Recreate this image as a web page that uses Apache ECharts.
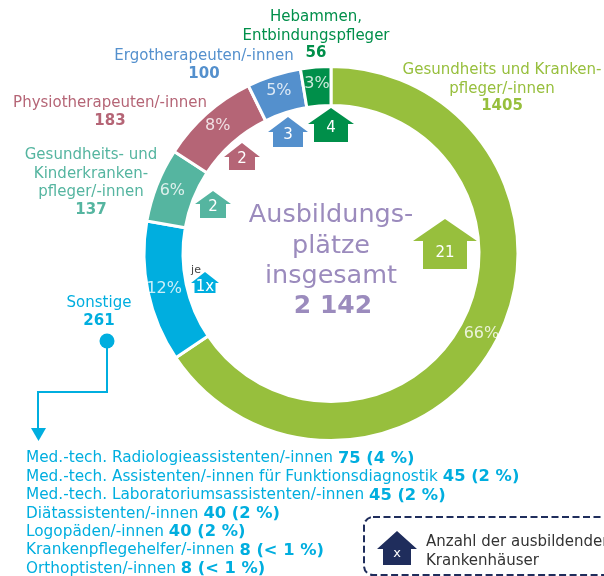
<!DOCTYPE html>
<html>
<head>
<meta charset="utf-8">
<script src="https://cdn.jsdelivr.net/npm/echarts@6/dist/echarts.min.js"></script>
<style>
html,body{margin:0;padding:0;background:#fff;}
#grafica{width:604px;height:576px;}
</style>
</head>
<body>
<div id="grafica"></div>
<script>
// datos
var berufe = ['Gesundheits und Kranken-\npfleger/-innen', 'Sonstige', 'Gesundheits- und\nKinderkranken-\npfleger/-innen', 'Physiotherapeuten/-innen', 'Ergotherapeuten/-innen', 'Hebammen,\nEntbindungspfleger'];
var plaetze = [1405, 261, 137, 183, 100, 56];
var prozent = ['66%', '12%', '6%', '8%', '5%', '3%'];
var haeuser = ['21', '1x', '2', '2', '3', '4'];
var farben = ['#97BF3D', '#00AEDF', '#55B5A0', '#B56576', '#5490CD', '#008F4A'];

var sonstigeNamen = ['Med.-tech. Radiologieassistenten/-innen', 'Med.-tech. Assistenten/-innen für Funktionsdiagnostik', 'Med.-tech. Laboratoriumsassistenten/-innen', 'Diätassistenten/-innen', 'Logopäden/-innen', 'Krankenpflegehelfer/-innen', 'Orthoptisten/-innen'];
var sonstigeWerte = ['75 (4 %)', '45 (2 %)', '45 (2 %)', '40 (2 %)', '40 (2 %)', '8 (< 1 %)', '8 (< 1 %)'];

var mitteZeilen = ['Ausbildungs-', 'plätze', 'insgesamt'];
var mitteSumme = '2 142';
var legendeText = 'Anzahl der ausbildenden\nKrankenhäuser';

var schrift = '"DejaVu Sans", sans-serif';
var elemente = [];

function texto(x, y, t, size, color, weight, align) {
    elemente.push({
        type: 'text', x: x, y: y + 1.5, silent: true,
        style: {
            text: t, fill: color, font: (weight || 'normal') + ' ' + size + 'px ' + schrift,
            align: align || 'center', verticalAlign: 'middle'
        }
    });
}

// casita con numero
function casa(cx, arriba, alero, abajo, mitad, cuerpo, color, t, size, yTexto) {
    elemente.push({
        type: 'polygon', silent: true,
        shape: { points: [[cx, arriba], [cx + mitad, alero], [cx + cuerpo, alero], [cx + cuerpo, abajo], [cx - cuerpo, abajo], [cx - cuerpo, alero], [cx - mitad, alero]] },
        style: { fill: color }
    });
    texto(cx, yTexto, t, size, '#fff');
}

// etiquetas de fuera: nombre en varias lineas y el valor en negrita
function etiqueta(i, x, y, alto) {
    var lineas = berufe[i].split('\n');
    lineas.forEach(function (l, n) {
        texto(x, y + n * alto, l, 15, farben[i]);
    });
    texto(x, y + lineas.length * alto - 1, String(plaetze[i]), 15, farben[i], 'bold');
}

etiqueta(0, 502, 69, 18.5);
etiqueta(1, 99, 302, 18.5);
etiqueta(2, 91, 154, 18.5);
etiqueta(3, 110, 102, 18.5);
etiqueta(4, 204, 55, 18.5);
etiqueta(5, 316, 16, 18.5);

casa(445, 219, 241, 269, 32, 22, farben[0], haeuser[0], 15, 252);
casa(205, 272, 283, 293, 14, 10.5, farben[1], haeuser[1], 15, 285.5);
casa(213, 191, 204, 218, 18, 13, farben[2], haeuser[2], 15, 206);
casa(242, 143, 157, 170, 18, 13, farben[3], haeuser[3], 15, 158);
casa(288, 117, 132, 147, 20, 15, farben[4], haeuser[4], 15, 134);
casa(331, 108, 124, 142, 23, 17, farben[5], haeuser[5], 15, 127);
texto(196, 269, 'je', 11, '#444');

// centro
mitteZeilen.forEach(function (l, n) {
    texto(331, 214 + n * 30.5, l, 25.5, '#9B8BBD');
});
texto(333, 305, mitteSumme, 25, '#9B8BBD', 'bold');

// flecha de Sonstige
elemente.push({ type: 'circle', silent: true, shape: { cx: 107, cy: 341, r: 7.5 }, style: { fill: farben[1] } });
elemente.push({ type: 'polyline', silent: true, shape: { points: [[107, 345], [107, 392], [38, 392], [38, 430]] }, style: { stroke: farben[1], lineWidth: 2, fill: null } });
elemente.push({ type: 'polygon', silent: true, shape: { points: [[31, 428], [46, 428], [38.5, 441]] }, style: { fill: farben[1] } });

// lista de Sonstige
sonstigeNamen.forEach(function (nombre, i) {
    elemente.push({
        type: 'text', x: 26, y: 458.5 + i * 18.4, silent: true,
        style: {
            text: '{n|' + nombre + ' }{b|' + sonstigeWerte[i] + '}',
            align: 'left', verticalAlign: 'middle',
            rich: {
                n: { fill: farben[1], font: '15.3px ' + schrift },
                b: { fill: farben[1], font: 'bold 16.3px ' + schrift }
            }
        }
    });
});

// leyenda
elemente.push({
    type: 'rect', silent: true,
    shape: { x: 364, y: 517, width: 280, height: 58, r: 9 },
    style: { fill: null, stroke: '#1F2D5C', lineWidth: 2, lineDash: [7, 3.5] }
});
casa(397, 531, 549, 565, 20, 14, '#1F2D5C', 'x', 13, 552);
texto(426, 550.5, legendeText, 15, '#333', 'normal', 'left');
elemente[elemente.length - 1].style.lineHeight = 19;

var grafico = echarts.init(document.getElementById('grafica'));
grafico.setOption({
    animation: false,
    series: [{
        type: 'pie',
        center: [331, 253.5],
        radius: [148, 187],
        startAngle: 90,
        clockwise: true,
        silent: true,
        itemStyle: { borderColor: '#fff', borderWidth: 3 },
        label: {
            position: 'inside',
            color: 'rgba(255,255,255,0.8)',
            fontFamily: schrift,
            fontSize: 16,
            formatter: function (p) { return prozent[p.dataIndex]; }
        },
        labelLine: { show: false },
        data: plaetze.map(function (v, i) {
            return { value: v, name: berufe[i], itemStyle: { color: farben[i] } };
        })
    }],
    graphic: { elements: elemente }
});
</script>
</body>
</html>
